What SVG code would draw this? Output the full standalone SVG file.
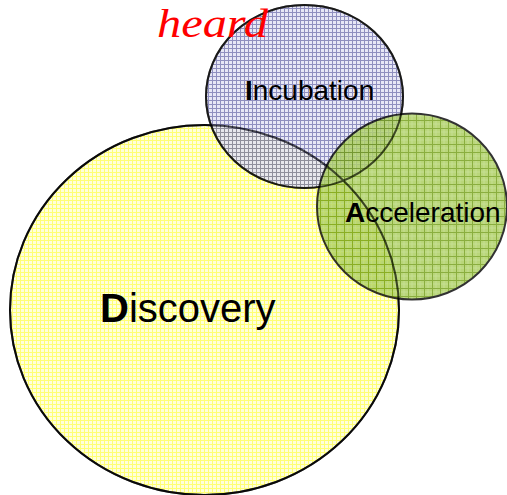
<svg xmlns="http://www.w3.org/2000/svg" width="507" height="495" viewBox="0 0 507 495">
<defs>
<pattern id="pY" width="4" height="4" patternUnits="userSpaceOnUse">
<rect width="4" height="4" fill="#ffffd8"/>
<path d="M0 0.5H4M0.5 0V4" stroke="#ffff66" stroke-width="1"/>
</pattern>
<pattern id="pB" width="4" height="4" patternUnits="userSpaceOnUse">
<rect width="4" height="4" fill="#e0e0f4"/>
<path d="M0 0.5H4M0.5 0V4" stroke="#6a6aaa" stroke-width="1"/>
</pattern>
<pattern id="pG" width="8" height="8" patternUnits="userSpaceOnUse">
<rect width="8" height="8" fill="#a8cc5a"/>
<path d="M0 4H8M4 0V8" stroke="#b8d878" stroke-width="1"/>
<path d="M0 0.5H8M0.5 0V8" stroke="#6e9a10" stroke-width="1"/>
</pattern>
<style>
.c{stroke:#000;stroke-width:2}
.t{font-family:"Liberation Sans",Arial,sans-serif;fill:#000}
</style>
</defs>
<g id="discovery">
<ellipse cx="204.5" cy="310" rx="194.5" ry="185" fill="url(#pY)" opacity="0.9" class="c"/>
</g>
<g id="incubation">
<ellipse cx="304.5" cy="96.5" rx="98.5" ry="91.5" fill="url(#pB)" opacity="0.75" class="c"/>
</g>
<g id="acceleration">
<ellipse cx="412" cy="206.5" rx="95" ry="93" fill="url(#pG)" opacity="0.8" class="c"/>
</g>
<g id="outlines" fill="none" stroke="#000" stroke-width="2" opacity="0.6">
<ellipse cx="204.5" cy="310" rx="194.5" ry="185"/>
<ellipse cx="304.5" cy="96.5" rx="98.5" ry="91.5"/>
</g>
<g id="labels">
<text x="157" y="37" font-family="'Liberation Serif','Times New Roman',serif" font-style="italic" font-size="40" fill="#ff0000" textLength="111" lengthAdjust="spacingAndGlyphs">heard</text>
<text class="t" x="245" y="100" font-size="28"><tspan font-weight="bold">I</tspan>ncubation</text>
<text class="t" x="345" y="222" font-size="28"><tspan font-weight="bold">A</tspan>cceleration</text>
<text class="t" x="100" y="322" font-size="40"><tspan font-weight="bold">D</tspan>iscovery</text>
</g>
<g id="connectors"/>
</svg>
